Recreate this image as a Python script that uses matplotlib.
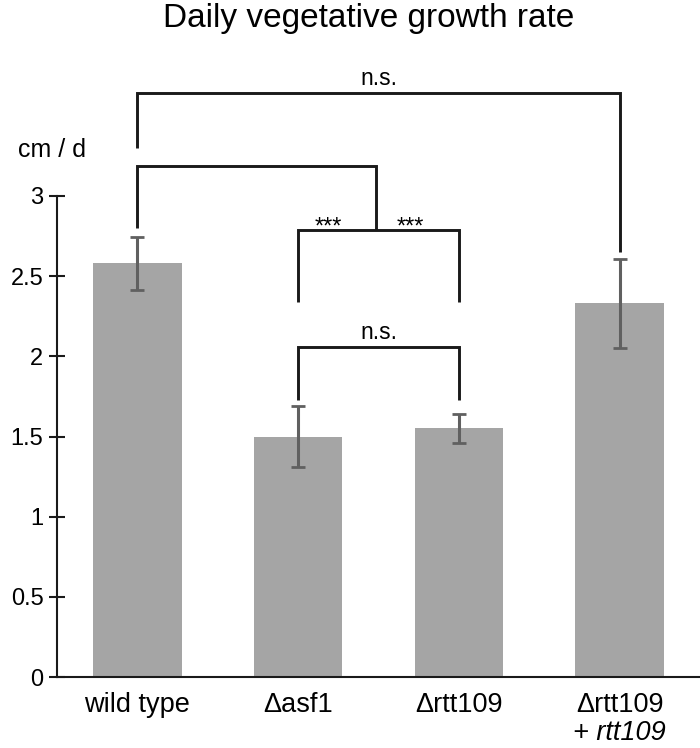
import matplotlib
matplotlib.use("Agg")
import matplotlib.pyplot as plt
import matplotlib.transforms as mtransforms
import numpy as np

plt.rcParams['font.family'] = ['Liberation Sans', 'DejaVu Sans']

categories = ["wild type", "\u0394asf1", "\u0394rtt109", "\u0394rtt109"]
second_line = ["", "", "", "+ rtt109"]
values = [2.58, 1.50, 1.55, 2.33]
errors = [0.165, 0.19, 0.09, 0.28]
yticks = [0, 0.5, 1, 1.5, 2, 2.5, 3]
ytick_labels = ["0", "0.5", "1", "1.5", "2", "2.5", "3"]

W, H = 700, 748
fig = plt.figure(figsize=(W / 100, H / 100), dpi=100)
ax = fig.add_axes([57 / W, 1 - 677 / H, 1 - 57 / W, (677 - 196) / H])

x = np.arange(len(values))
ax.bar(x, values, width=0.55, color="#a5a5a5", zorder=1)
ax.errorbar(x, values, yerr=errors, fmt="none", ecolor="#606060",
            elinewidth=2.2, capsize=4.7, capthick=2.0, zorder=2)

ax.set_xlim(-0.5, 3.5)
ax.set_ylim(0, 3)
ax.set_yticks(yticks)
ax.set_yticklabels(ytick_labels, fontsize=17)
ax.set_xticks([])
ax.tick_params(axis="y", direction="inout", length=11.5, width=1.5, pad=4,
               color="#1a1a1a")
for s in ["top", "right"]:
    ax.spines[s].set_visible(False)
ax.spines["left"].set_linewidth(1.5)
ax.spines["bottom"].set_linewidth(1.5)
ax.spines["left"].set_color("#1a1a1a")
ax.spines["bottom"].set_color("#1a1a1a")

# x labels
bt = mtransforms.blended_transform_factory(ax.transData, fig.transFigure)
for i, c in enumerate(categories):
    ax.text(i, 1 - 712 / H, c, ha="center", va="baseline", fontsize=19.5,
            transform=bt, clip_on=False)
    if second_line[i]:
        ax.text(i, 1 - 740 / H, second_line[i], ha="center", va="baseline",
                fontsize=19.5, style="italic", transform=bt, clip_on=False)

# brackets
lc = "#1a1a1a"
lw = 2.1
def line(xs, ys):
    ax.plot(xs, ys, color=lc, lw=lw, clip_on=False, solid_capstyle="butt",
            solid_joinstyle="miter", zorder=3)

# top n.s.: wild type vs complemented
line([0, 0, 3, 3], [3.30, 3.64, 3.64, 2.65])
ax.text(1.5, 3.69, "n.s.", ha="center", va="baseline", fontsize=16.5, clip_on=False)
# wild type vs middle
line([0, 0, 1.487, 1.487], [2.80, 3.19, 3.19, 2.79])
# *** bracket
line([1, 1, 2, 2], [2.34, 2.79, 2.79, 2.34])
ax.text(1.19, 2.765, "***", ha="center", va="baseline", fontsize=17, clip_on=False)
ax.text(1.70, 2.765, "***", ha="center", va="baseline", fontsize=17, clip_on=False)
# lower n.s.
line([1, 1, 2, 2], [1.73, 2.06, 2.06, 1.73])
ax.text(1.5, 2.106, "n.s.", ha="center", va="baseline", fontsize=16.5, clip_on=False)

fig.text(52 / W, 1 - 150 / H, "cm / d", ha="center", va="center", fontsize=18)
fig.text(369 / W, 1 - 27 / H, "Daily vegetative growth rate", ha="center",
         va="baseline", fontsize=24)

fig.savefig("out.png", dpi=100)
